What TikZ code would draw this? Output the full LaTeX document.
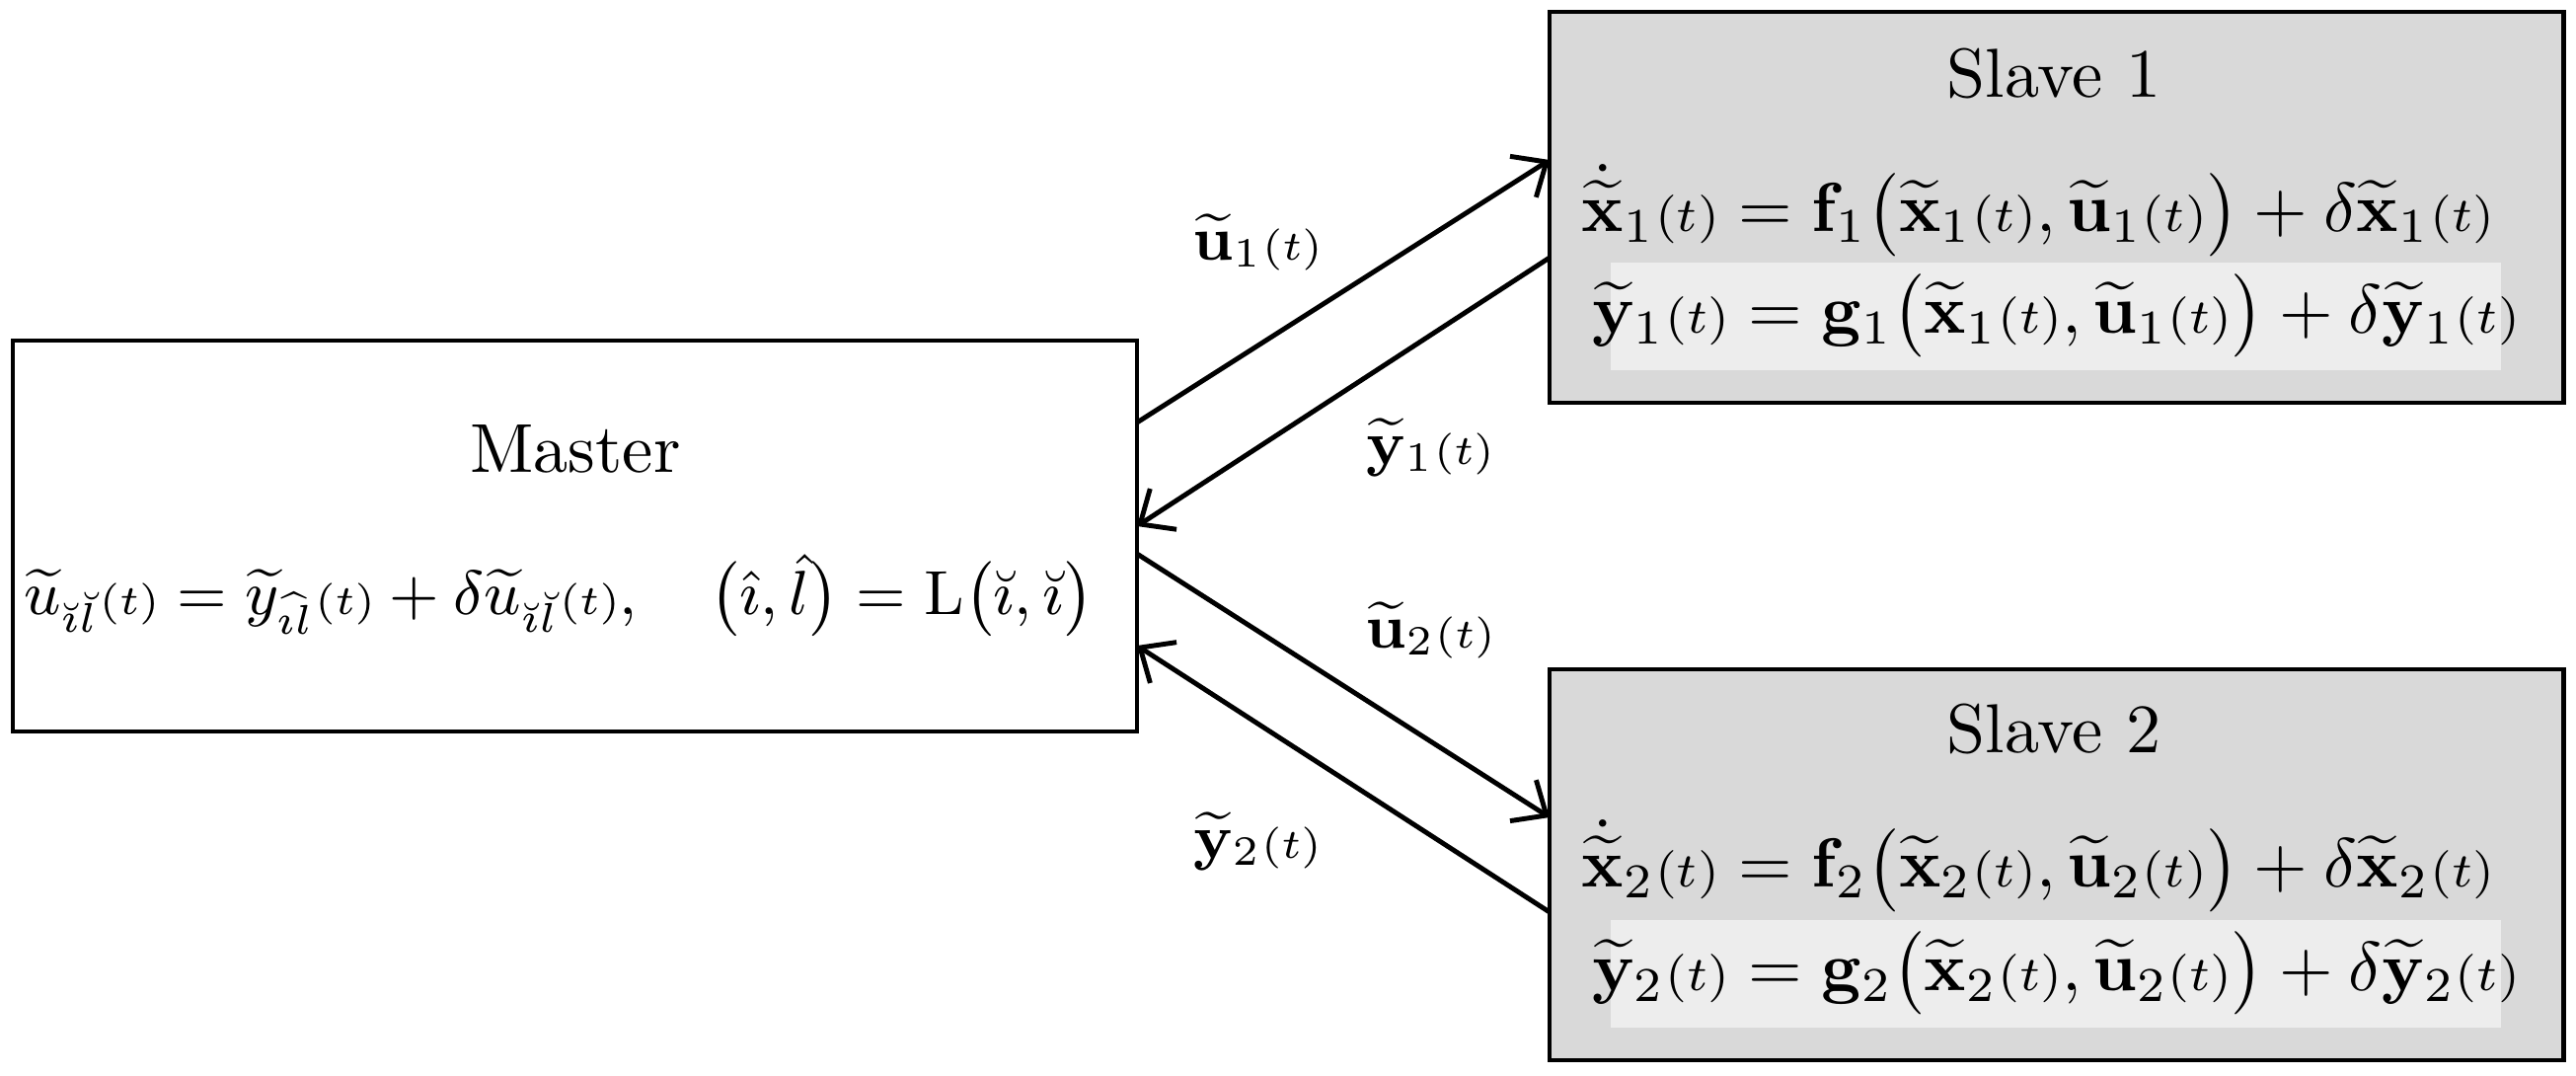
\documentclass[tikz,border=0pt]{standalone}
\usepackage{amsmath,amssymb}
\usetikzlibrary{arrows.meta}
\newcommand{\tpar}{{\scriptstyle(t)}}
\newcommand{\wt}[1]{\widetilde{#1}}
\begin{document}
\begin{tikzpicture}[x=0.005cm,y=-0.005cm,
  conn/.style={line width=0.7pt,-{Straight Barb[length=4pt,width=7pt]}}]
\useasboundingbox (0,0) rectangle (2610,1089);
\draw[line width=0.7pt] (13,345) rectangle (1152,741);
\fill[gray!30] (1570,12) rectangle (2597,408);
\draw[line width=0.7pt] (1570,12) rectangle (2597,408);
\fill[gray!30] (1570,678) rectangle (2597,1074);
\draw[line width=0.7pt] (1570,678) rectangle (2597,1074);
\fill[gray!14] (1632,266) rectangle (2534,375);
\fill[gray!14] (1632,932) rectangle (2534,1041);
\node (mt) at (583,455) {Master};
\node (mf) at (566,603) {\small $\wt{u}_{\breve{\imath}\breve{l}}\tpar=\wt{y}_{\widehat{\imath l}}\tpar+\delta\wt{u}_{\breve{\imath}\breve{l}}\tpar,\quad\big(\hat{\imath},\hat{l}\big)=\mathrm{L}\big(\breve{\imath},\breve{\imath}\big)$};
\node (s1) at (2081,75) {Slave 1};
\node (s1a) at (2065,213) {$\dot{\wt{\mathbf{x}}}_1\tpar=\mathbf{f}_1\big(\wt{\mathbf{x}}_1\tpar,\wt{\mathbf{u}}_1\tpar\big)+\delta\wt{\mathbf{x}}_1\tpar$};
\node (s1b) at (2083,320) {$\wt{\mathbf{y}}_1\tpar=\mathbf{g}_1\big(\wt{\mathbf{x}}_1\tpar,\wt{\mathbf{u}}_1\tpar\big)+\delta\wt{\mathbf{y}}_1\tpar$};
\node (s2) at (2081,738) {Slave 2};
\node (s2a) at (2065,877) {$\dot{\wt{\mathbf{x}}}_2\tpar=\mathbf{f}_2\big(\wt{\mathbf{x}}_2\tpar,\wt{\mathbf{u}}_2\tpar\big)+\delta\wt{\mathbf{x}}_2\tpar$};
\node (s2b) at (2083,986) {$\wt{\mathbf{y}}_2\tpar=\mathbf{g}_2\big(\wt{\mathbf{x}}_2\tpar,\wt{\mathbf{u}}_2\tpar\big)+\delta\wt{\mathbf{y}}_2\tpar$};
\coordinate (m1) at (1152,428); \coordinate (m2) at (1152,533);
\coordinate (m3) at (1152,561); \coordinate (m4) at (1152,654);
\coordinate (a1) at (1570,162); \coordinate (a2) at (1570,261);
\coordinate (b1) at (1570,828); \coordinate (b2) at (1570,924);
\draw[conn] (m1) -- (a1);
\draw[conn] (a2) -- (m2);
\draw[conn] (m3) -- (b1);
\draw[conn] (b2) -- (m4);
\node (l1) at (1274,245) {\small $\wt{\mathbf{u}}_1\tpar$};
\node (l2) at (1449,453) {\small $\wt{\mathbf{y}}_1\tpar$};
\node (l3) at (1449,638) {\small $\wt{\mathbf{u}}_2\tpar$};
\node (l4) at (1274,852) {\small $\wt{\mathbf{y}}_2\tpar$};
\end{tikzpicture}
\end{document}
